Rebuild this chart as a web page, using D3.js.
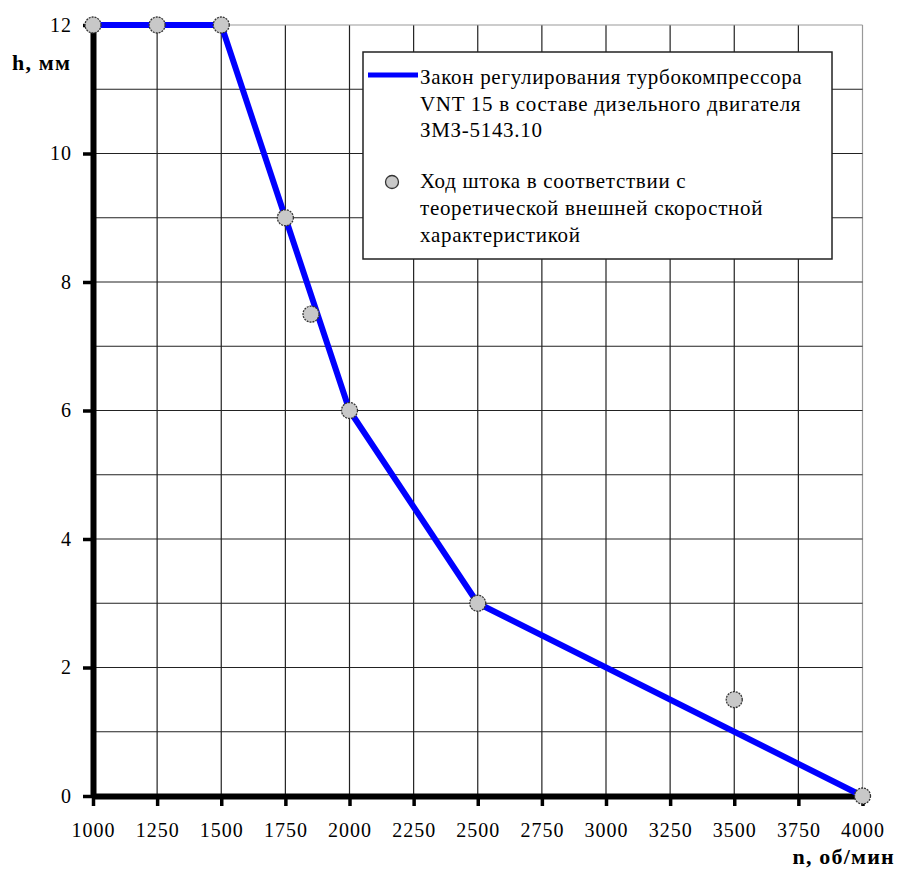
<!DOCTYPE html>
<html>
<head>
<meta charset="utf-8">
<script src="https://cdn.jsdelivr.net/npm/d3@7"></script>
<style>
  body { margin: 0; background: #fff; }
  svg text { font-family: "Liberation Serif", "DejaVu Serif", serif !important; }
</style>
</head>
<body>
<div id="chart"></div>
<script>
const width = 897;
const height = 870;

// law of regulation (line)
const lawRpm = [1000, 1500, 1750, 2000, 2500, 4000];
const lawStroke = [12, 12, 9, 6, 3, 0];

// rod stroke from theoretical characteristic (points)
const pointRpm = [1000, 1250, 1500, 1750, 1850, 2000, 2500, 3500, 4000];
const pointStroke = [12, 12, 12, 9, 7.5, 6, 3, 1.5, 0];

const xTicks = [1000, 1250, 1500, 1750, 2000, 2250, 2500, 2750, 3000, 3250, 3500, 3750, 4000];
const yTicks = [0, 2, 4, 6, 8, 10, 12];
const yGrid = d3.range(0, 13, 1);

const legendLine = ["Закон регулирования турбокомпрессора", "VNT 15 в составе дизельного двигателя", "ЗМЗ-5143.10"];
const legendPoints = ["Ход штока в соответствии с", "теоретической внешней скоростной", "характеристикой"];

const svg = d3.select("#chart").append("svg")
  .attr("width", width)
  .attr("height", height);

const x = d3.scaleLinear().domain([1000, 4000]).range([93, 862.5]);
const y = d3.scaleLinear().domain([0, 12]).range([796, 25]);

// grid
const grid = svg.append("g");
grid.selectAll("line.v")
  .data(xTicks.slice(1))
  .enter()
  .append("line")
  .attr("x1", d => x(d)).attr("x2", d => x(d))
  .attr("y1", y(0)).attr("y2", y(12))
  .attr("stroke", d => d === 4000 ? "#999" : "#222")
  .attr("stroke-width", 1.2);
grid.selectAll("line.h")
  .data(yGrid.slice(1))
  .enter()
  .append("line")
  .attr("x1", x(1000)).attr("x2", x(4000))
  .attr("y1", d => y(d)).attr("y2", d => y(d))
  .attr("stroke", d => d === 12 ? "#999" : "#222")
  .attr("stroke-width", 1.2);

// axes
const xAxis = svg.append("g")
  .attr("transform", `translate(0,${y(0)})`)
  .call(d3.axisBottom(x).tickValues(xTicks).tickFormat(d3.format("d"))
    .tickSize(10).tickPadding(17).tickSizeOuter(0));
xAxis.select(".domain").attr("stroke", "#000").attr("stroke-width", 6);
xAxis.selectAll(".tick line").attr("stroke", "#000").attr("stroke-width", 3.5);
xAxis.selectAll("text").attr("font-size", 20).attr("fill", "#000").attr("letter-spacing", 1);

const yAxis = svg.append("g")
  .attr("transform", `translate(${x(1000)},0)`)
  .call(d3.axisLeft(y).tickValues(yTicks).tickSize(10).tickPadding(11).tickSizeOuter(0));
yAxis.select(".domain").attr("stroke", "#000").attr("stroke-width", 6);
yAxis.selectAll(".tick line").attr("stroke", "#000").attr("stroke-width", 3.5);
yAxis.selectAll("text").attr("font-size", 20).attr("fill", "#000").attr("letter-spacing", 1);

// axis titles
svg.append("text")
  .attr("x", 12).attr("y", 70)
  .attr("font-size", 22).attr("font-weight", "bold")
  .attr("letter-spacing", 1.2)
  .text("h, мм");
svg.append("text")
  .attr("x", 895).attr("y", 864)
  .attr("text-anchor", "end")
  .attr("font-size", 22).attr("font-weight", "bold")
  .attr("letter-spacing", 1.2)
  .text("n, об/мин");

// law line
const lawData = lawRpm.map((d, i) => [d, lawStroke[i]]);
svg.append("path")
  .datum(lawData)
  .attr("fill", "none")
  .attr("stroke", "#0000ff")
  .attr("stroke-width", 6)
  .attr("stroke-linejoin", "round")
  .attr("d", d3.line().x(d => x(d[0])).y(d => y(d[1])));

// points
const pointData = pointRpm.map((d, i) => [d, pointStroke[i]]);
svg.append("g")
  .selectAll("circle")
  .data(pointData)
  .enter()
  .append("circle")
  .attr("cx", d => x(d[0]))
  .attr("cy", d => y(d[1]))
  .attr("r", 8)
  .attr("fill", "#c8c8c8")
  .attr("stroke", "#333")
  .attr("stroke-width", 1.3)
  .attr("stroke-dasharray", "2,1");

// legend
const legend = svg.append("g");
legend.append("rect")
  .attr("x", 363).attr("y", 52)
  .attr("width", 469).attr("height", 207)
  .attr("fill", "#fff")
  .attr("stroke", "#222")
  .attr("stroke-width", 1.5);
legend.append("line")
  .attr("x1", 368).attr("x2", 418)
  .attr("y1", 75).attr("y2", 75)
  .attr("stroke", "#0000ff").attr("stroke-width", 5);
legend.selectAll("text.l1")
  .data(legendLine)
  .enter()
  .append("text")
  .attr("x", 420)
  .attr("y", (d, i) => 84 + i * 26.5)
  .attr("font-size", 21)
  .attr("letter-spacing", 0.7)
  .text(d => d);
legend.append("circle")
  .attr("cx", 392).attr("cy", 182).attr("r", 6.5)
  .attr("fill", "#c8c8c8")
  .attr("stroke", "#333").attr("stroke-width", 1.3);
legend.selectAll("text.l2")
  .data(legendPoints)
  .enter()
  .append("text")
  .attr("x", 420)
  .attr("y", (d, i) => 188 + i * 27)
  .attr("font-size", 21)
  .attr("letter-spacing", 0.7)
  .text(d => d);
</script>
</body>
</html>
